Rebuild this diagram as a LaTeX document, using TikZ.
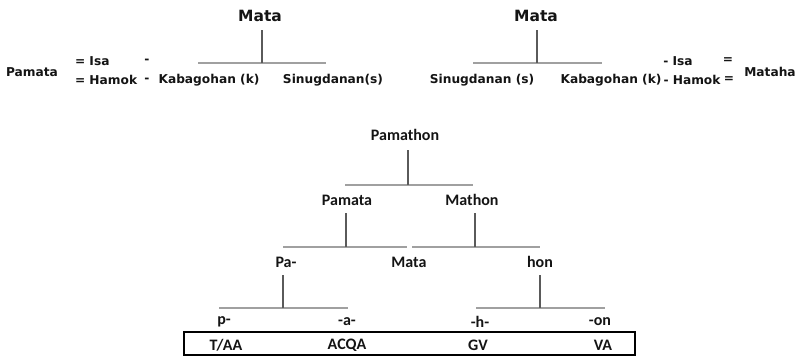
\documentclass[tikz,border=0pt]{standalone}
\usepackage{fontspec}
\newfontfamily\topfont{DejaVu Sans}[BoldFont={DejaVu Sans Bold}]
\newfontfamily\botfont{Carlito}
\definecolor{txt}{HTML}{141414}
\definecolor{vgray}{HTML}{5A5A5A}
\definecolor{hgray}{HTML}{A0A0A0}
\begin{document}
\begin{tikzpicture}[x=1pt,y=-1pt,
  every node/.style={inner sep=0pt,outer sep=0pt,text=txt},
  tt/.style={font=\topfont\bfseries\fontsize{12.2}{13}\selectfont},
  ttbig/.style={font=\topfont\bfseries\fontsize{15.5}{16}\selectfont},
  bt/.style={font=\botfont\bfseries\fontsize{16}{17}\selectfont},
  vline/.style={draw=vgray,line width=1.5pt},
  hline/.style={draw=hgray,line width=2pt},
  boxline/.style={draw=black,line width=1.8pt}]
\useasboundingbox (0,0) rectangle (801,357);

% ---------- top left ----------
\node[ttbig] (mataL) at (260,16) {Mata};
\node[tt] (pamataL) at (32,72) {Pamata};
\node[tt,anchor=west] (isaL) at (75,61) {= Isa};
\node[tt,anchor=west] (hamokL) at (75,80) {= Hamok};
\node[tt] (d1L) at (147,61) {-};
\node[tt] (d2L) at (147,80) {-};
\node[tt] (kabL) at (209,80) {Kabagohan (k)};
\node[tt] (sinL) at (333,80) {Sinugdanan(s)};
\coordinate (tLv) at (262,30);
\coordinate (tLj) at (262,63);
\coordinate (tLa) at (198,63);
\coordinate (tLb) at (326,63);
\draw[hline] (tLa) -- (tLb);
\draw[vline] (tLv) -- (tLj);

% ---------- top right ----------
\node[ttbig] (mataR) at (536,16) {Mata};
\node[tt] (sinR) at (482,80) {Sinugdanan (s)};
\node[tt] (kabR) at (611,80) {Kabagohan (k)};
\node[tt] (hamokR) at (692,80) {- Hamok};
\node[tt] (eq2R) at (729,80) {=};
\node[tt] (isaR) at (678,61) {- Isa};
\node[tt] (eq1R) at (728,61) {=};
\node[tt] (matahaR) at (770,72) {Mataha};
\coordinate (tRv) at (537,30);
\coordinate (tRj) at (537,63);
\coordinate (tRa) at (473,63);
\coordinate (tRb) at (602,63);
\draw[hline] (tRa) -- (tRb);
\draw[vline] (tRv) -- (tRj);

% ---------- bottom tree ----------
\node[bt] (pamathon) at (405,135) {Pamathon};
\node[bt] (pamata) at (347,200) {Pamata};
\node[bt] (mathon) at (472,200) {Mathon};
\node[bt] (pa) at (286,262) {Pa-};
\node[bt] (mata) at (409,262) {Mata};
\node[bt] (hon) at (540,262) {hon};
\node[bt] (p) at (224,322) {p-};
\node[bt] (a) at (347,322) {-a-};
\node[bt] (h) at (480,322) {-h-};
\node[bt] (on) at (600,322) {-on};

\coordinate (v1a) at (408,150); \coordinate (v1b) at (408,185);
\coordinate (h1a) at (345,185); \coordinate (h1b) at (473,185);
\draw[hline] (h1a) -- (h1b);
\draw[vline] (v1a) -- (v1b);

\coordinate (v2a) at (346,213); \coordinate (v2b) at (346,247);
\coordinate (v3a) at (475,213); \coordinate (v3b) at (475,247);
\coordinate (h2a) at (283,247); \coordinate (h2b) at (407,247);
\coordinate (h3a) at (412,247); \coordinate (h3b) at (540,247);
\draw[hline] (h2a) -- (h2b);
\draw[hline] (h3a) -- (h3b);
\draw[vline] (v2a) -- (v2b);
\draw[vline] (v3a) -- (v3b);

\coordinate (v4a) at (283,275); \coordinate (v4b) at (283,308);
\coordinate (h4a) at (219,308); \coordinate (h4b) at (348,308);
\coordinate (v5a) at (540,275); \coordinate (v5b) at (540,308);
\coordinate (h5a) at (476,308); \coordinate (h5b) at (605,308);
\draw[hline] (h4a) -- (h4b);
\draw[hline] (h5a) -- (h5b);
\draw[vline] (v4a) -- (v4b);
\draw[vline] (v5a) -- (v5b);

% ---------- box ----------
\coordinate (bx1) at (184,332);
\coordinate (bx2) at (635,355);
\draw[boxline] (bx1) rectangle (bx2);
\node[bt] (taa) at (226,345) {T/AA};
\node[bt] (acqa) at (347,345) {ACQA};
\node[bt] (gv) at (478,345) {GV};
\node[bt] (va) at (603,345) {VA};
\end{tikzpicture}
\end{document}
